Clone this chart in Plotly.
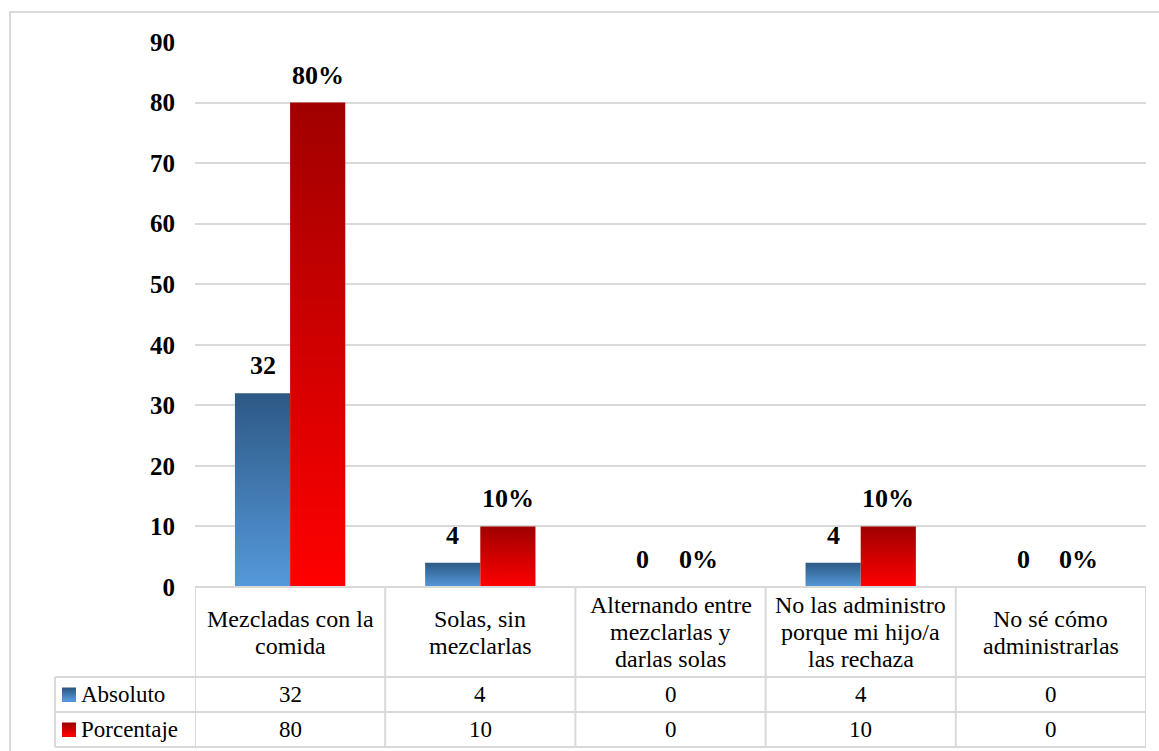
import plotly.graph_objects as go

# Survey answers: how the supplements are given
categories = [
    "Mezcladas con la<br>comida",
    "Solas, sin<br>mezclarlas",
    "Alternando entre<br>mezclarlas y<br>darlas solas",
    "No las administro<br>porque mi hijo/a<br>las rechaza",
    "No sé cómo<br>administrarlas",
]
absoluto = [32, 4, 0, 4, 0]
porcentaje = [80, 10, 0, 10, 0]
series_names = ["Absoluto", "Porcentaje"]
y_ticks = [0, 10, 20, 30, 40, 50, 60, 70, 80, 90]

W, H = 1159, 751
FONT = "Liberation Serif"
GRID = "#D9D9D9"

# pixel geometry of the plot area and the data table below it
PX_L, PX_R = 195, 1146
PX_TOP, PX_ZERO = 42, 587
ROW_Y = [587, 677, 712, 747]
LEG_X = 55
LINE_H = 27  # line spacing of the wrapped category labels


def py(px):
    return 1 - px / H


def pxx(px):
    return px / W


def hex_rgb(h):
    h = h.lstrip("#")
    return tuple(int(h[k:k + 2], 16) for k in (0, 2, 4))


def mix(c1, c2, t):
    a, b = hex_rgb(c1), hex_rgb(c2)
    return "rgb({},{},{})".format(*[round(a[k] + (b[k] - a[k]) * t) for k in range(3)])


BAR_W = 0.29
BLUE = ("#5599DB", "#2D5985")
RED = ("#FF0000", "#A00000")
series = [
    (absoluto, -BAR_W, BLUE, lambda v: f"{v}"),
    (porcentaje, 0.0, RED, lambda v: f"{v}%"),
]

fig = go.Figure()
annotations = []

# gradient-filled bars with bold value labels above them
for vals, off, (c_low, c_high), fmt in series:
    for i, v in enumerate(vals):
        x0 = i + off
        x1 = x0 + BAR_W
        if v > 0:
            fig.add_trace(go.Scatter(
                x=[x0, x1, x1, x0, x0], y=[0, 0, v, v, 0],
                mode="lines", line=dict(width=0), fill="toself",
                fillgradient=dict(type="vertical",
                                  colorscale=[[0, c_low], [1, c_high]]),
                hoverinfo="skip", showlegend=False,
            ))
        annotations.append(dict(
            x=(x0 + x1) / 2, y=v, xref="x", yref="y", text=f"<b>{fmt(v)}</b>",
            showarrow=False, yanchor="bottom", yshift=11,
            font=dict(family=FONT, size=26, color="black"),
        ))

shapes = []
# outer chart border (top and left edges)
shapes.append(dict(type="rect", xref="paper", yref="paper",
                   x0=pxx(10), x1=pxx(1200), y0=py(800), y1=py(12),
                   line=dict(color=GRID, width=2), layer="below"))

# data table grid
for r, yy in enumerate(ROW_Y):
    x_start = PX_L if r == 0 else LEG_X
    shapes.append(dict(type="line", xref="paper", yref="paper",
                       x0=pxx(x_start), x1=pxx(PX_R), y0=py(yy), y1=py(yy),
                       line=dict(color=GRID, width=2)))
for k in range(len(categories) + 1):
    shapes.append(dict(type="line", xref="x", yref="paper",
                       x0=k - 0.5, x1=k - 0.5, y0=py(ROW_Y[0]), y1=py(ROW_Y[-1]),
                       line=dict(color=GRID, width=2)))
shapes.append(dict(type="line", xref="paper", yref="paper",
                   x0=pxx(LEG_X), x1=pxx(LEG_X), y0=py(ROW_Y[1]), y1=py(ROW_Y[-1]),
                   line=dict(color=GRID, width=2)))

# category labels in the header row, one annotation per wrapped line
head_c = (ROW_Y[0] + ROW_Y[1]) / 2
for i, c in enumerate(categories):
    lines = c.split("<br>")
    n = len(lines)
    for j, ln in enumerate(lines):
        yc = head_c + (j - (n - 1) / 2) * LINE_H
        annotations.append(dict(
            x=i, y=py(yc), xref="x", yref="paper",
            text=ln, showarrow=False, yanchor="middle",
            font=dict(family=FONT, size=24, color="black"),
        ))

# value rows with legend keys (small gradient squares)
key_colors = [BLUE, RED]
KEY_X0, KEY_X1, KEY_SZ, STRIPS = 62, 76, 14, 7
for r, (name, vals) in enumerate(zip(series_names, [absoluto, porcentaje])):
    y_top, y_bot = ROW_Y[r + 1], ROW_Y[r + 2]
    yc = (y_top + y_bot) / 2
    lo, hi = key_colors[r]
    k_top = yc - KEY_SZ / 2
    step = KEY_SZ / STRIPS
    # each strip runs to the bottom of the key, later strips cover the lower part
    for s in range(STRIPS):
        t = 1 - s / (STRIPS - 1)
        shapes.append(dict(type="rect", xref="paper", yref="paper",
                           x0=pxx(KEY_X0), x1=pxx(KEY_X1),
                           y0=py(k_top + KEY_SZ), y1=py(k_top + s * step),
                           fillcolor=mix(lo, hi, t), line=dict(width=0)))
    annotations.append(dict(
        x=pxx(79), y=py(yc), xref="paper", yref="paper", text=name,
        showarrow=False, xanchor="left", yanchor="middle",
        font=dict(family=FONT, size=23, color="black"),
    ))
    for i, v in enumerate(vals):
        annotations.append(dict(
            x=i, y=py(yc), xref="x", yref="paper", text=str(v),
            showarrow=False, yanchor="middle",
            font=dict(family=FONT, size=23, color="black"),
        ))

fig.update_layout(
    template="none",
    width=W, height=H,
    margin=dict(l=0, r=0, t=0, b=0, pad=0, autoexpand=False),
    paper_bgcolor="white", plot_bgcolor="white",
    font=dict(family=FONT, color="black"),
    showlegend=False,
    xaxis=dict(domain=[pxx(PX_L), pxx(PX_R)], range=[-0.5, len(categories) - 0.5],
               showticklabels=False, showgrid=False, zeroline=False,
               showline=False, ticks="", automargin=False, fixedrange=True),
    yaxis=dict(domain=[py(PX_ZERO), py(PX_TOP)], range=[0, 90],
               tickvals=y_ticks, ticktext=[f"<b>{t}</b>" for t in y_ticks],
               tickfont=dict(family=FONT, size=25, color="black"),
               ticklabelstandoff=19,
               showgrid=True, gridcolor=GRID, gridwidth=2,
               zeroline=False, showline=False, ticks="", automargin=False,
               fixedrange=True),
    shapes=shapes,
    annotations=annotations,
)

fig.write_html("out.html")
